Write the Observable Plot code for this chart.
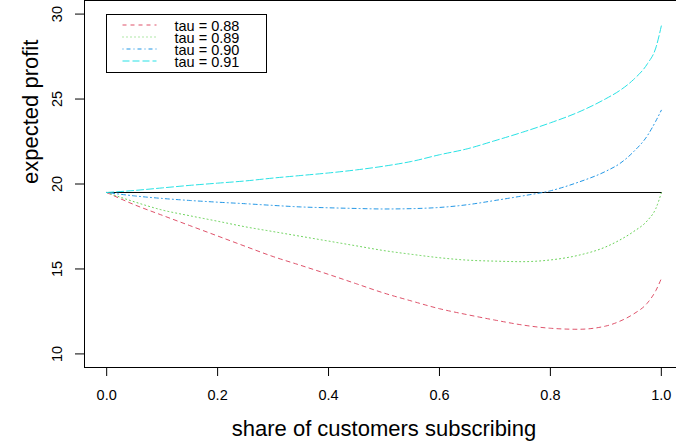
<!DOCTYPE html>
<html><head><meta charset="utf-8">
<script src="https://cdn.jsdelivr.net/npm/d3@7"></script>
<script src="https://cdn.jsdelivr.net/npm/@observablehq/plot@0.6"></script>
<style>body{margin:0;background:#fff} svg{display:block}</style>
</head><body><div id="chart"></div>
<script>
// ---- data ----
const share = [0,0.05,0.1,0.15,0.2,0.25,0.3,0.35,0.4,0.45,0.5,0.55,0.6,0.65,0.7,0.75,0.8,0.85,0.9,0.925,0.95,0.975,0.99,1.0];
const tau088 = [19.5,18.78,18.16,17.55,16.94,16.33,15.73,15.21,14.68,14.13,13.58,13.11,12.66,12.31,11.99,11.70,11.51,11.45,11.64,11.92,12.35,13.0,13.72,14.43];
const tau089 = [19.5,18.95,18.47,18.13,17.81,17.48,17.2,16.92,16.64,16.36,16.08,15.86,15.66,15.52,15.46,15.43,15.53,15.8,16.3,16.7,17.2,17.85,18.55,19.47];
const tau090 = [19.5,19.3,19.15,19.03,18.93,18.84,18.74,18.65,18.6,18.56,18.53,18.55,18.62,18.78,19.03,19.3,19.6,20.1,20.75,21.2,21.9,22.85,23.7,24.34];
const tau091 = [19.5,19.62,19.77,19.92,20.05,20.18,20.35,20.5,20.65,20.83,21.05,21.33,21.72,22.07,22.55,23.05,23.6,24.22,25.02,25.5,26.15,27.08,28.0,29.3];
const baselineX = [0, 1];
const baselineY = [19.5, 19.5];
const seriesLabels = ["tau = 0.88","tau = 0.89","tau = 0.90","tau = 0.91"];
const seriesColors = ["#DF536B","#61D04F","#2297E6","#28E2E5"];
const seriesDash = ["4,4","1,3","1,3,4,3","7,3"];
const xTicks = [0,0.2,0.4,0.6,0.8,1.0];
const yTicks = [10,15,20,25,30];
const xTitle = "share of customers subscribing";
const yTitle = "expected profit";
const legendAnchor = [0, 30];

const FONT = '"Liberation Sans", Arial, Helvetica, sans-serif';
const seriesValues = [tau088, tau089, tau090, tau091];

const lineMarks = seriesValues.map((vals, i) =>
  Plot.line(share.map((x, j) => ({x, y: vals[j]})), {
    x: "x", y: "y", stroke: seriesColors[i], strokeWidth: 1,
    strokeDasharray: seriesDash[i], curve: "monotone-x"
  })
);

const chart = Plot.plot({
  width: 676, height: 445,
  marginLeft: 84, marginRight: -7, marginTop: 0, marginBottom: 78,
  style: {fontFamily: FONT, fontSize: "14.5px", color: "black", background: "white"},
  x: {domain: [-0.04, 1.04]},
  y: {domain: [9.2, 30.8]},
  marks: [
    Plot.line(baselineX.map((x, i) => ({x, y: baselineY[i]})), {x: "x", y: "y", stroke: "black", strokeWidth: 1}),
    ...lineMarks,
    Plot.frame({stroke: "black", strokeWidth: 1}),
    Plot.axisX({ticks: xTicks, tickSize: 9, tickPadding: 13, tickFormat: d3.format(".1f"), fontSize: 14.5, label: null}),
    Plot.axisY({ticks: yTicks, tickSize: 9, tickFormat: () => "", label: null}),
    Plot.text(yTicks, {y: d => d, text: d => String(d), frameAnchor: "left", rotate: -90, dx: -27, fontSize: 14.5, textAnchor: "middle", lineAnchor: "middle"}),
    Plot.text([xTitle], {text: d => d, frameAnchor: "bottom", dy: 61, fontSize: 22, lineAnchor: "middle"}),
    Plot.text([yTitle], {text: d => d, frameAnchor: "left", rotate: -90, dx: -54, fontSize: 22, lineAnchor: "middle"})
  ]
});

document.getElementById("chart").appendChild(chart);

// legend, anchored at data point (0, 30) like R's legend(x, y, ...)
const sx = chart.scale("x"), sy = chart.scale("y");
const lx = Math.round(sx.apply(legendAnchor[0])) + 0.5;
const ly = Math.round(sy.apply(legendAnchor[1])) + 0.5;
const g = d3.select(chart).append("g").attr("font-family", FONT).attr("font-size", 14.5).attr("text-anchor", "start");
g.append("rect").attr("x", lx).attr("y", ly).attr("width", 160).attr("height", 58)
  .style("fill", "white").style("stroke", "black").style("stroke-width", "1px");
seriesLabels.forEach((lab, i) => {
  const yy = ly + 11 + i * 12;
  g.append("line").attr("x1", lx + 16).attr("x2", lx + 50).attr("y1", yy - 0.5).attr("y2", yy - 0.5)
    .style("stroke", seriesColors[i]).style("stroke-width", "1.2px").style("stroke-dasharray", seriesDash[i]);
  g.append("text").attr("x", lx + 68).attr("y", yy).attr("dy", "0.35em").style("fill", "black")
    .style("text-anchor", "start").text(lab);
});
</script></body></html>
